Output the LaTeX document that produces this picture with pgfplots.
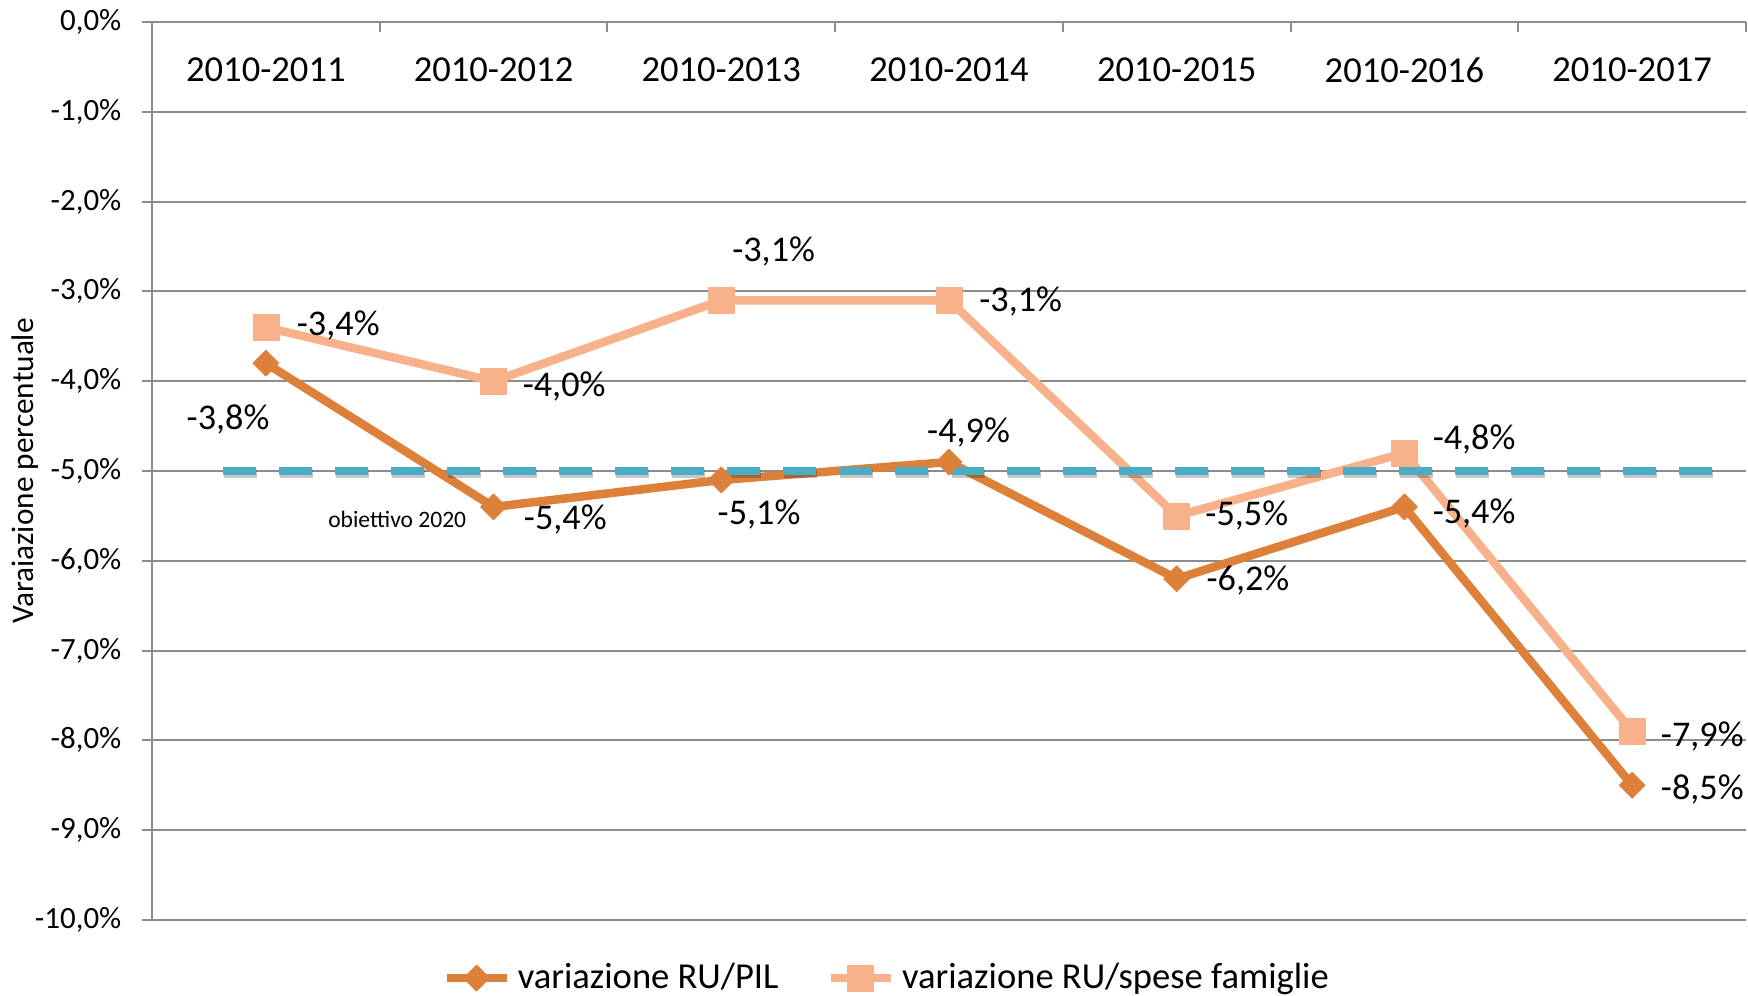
\documentclass[border=0pt]{standalone}
\usepackage{fontspec}
\setmainfont{Carlito}
\usepackage{pgfplots}
\pgfplotsset{compat=1.18}
\definecolor{pil}{HTML}{DD803A}
\definecolor{spese}{HTML}{F7B28C}
\definecolor{obj}{HTML}{4BACC6}
\definecolor{gridc}{HTML}{8C8C8C}
\newcommand{\dl}{\fontsize{10.3}{12}\selectfont}
\begin{document}
\begin{tikzpicture}
\path[use as bounding box] (-1.52,-0.76) rectangle (15.96,9.20);
\begin{axis}[
  at={(0,0)}, anchor=south west,
  scale only axis, width=15.94cm, height=8.98cm,
  xmin=-0.5, xmax=6.5, ymin=-10, ymax=0,
  axis x line*=top, axis y line*=left,
  axis line style={gridc, line width=0.02cm, -},
  xtick={-0.5,0.5,1.5,2.5,3.5,4.5,5.5,6.5},
  xticklabels={},
  extra x ticks={0,1,2,3,4,5,6},
  extra x tick labels={2010-2011,2010-2012,2010-2013,2010-2014,2010-2015,2010-2016,2010-2017},
  extra x tick style={major tick length=0pt},
  xticklabel style={anchor=center, yshift=-0.48cm, font=\fontsize{10.4}{12}\selectfont},
  tick align=inside, major tick length=0.1cm,
  x tick style={gridc, line width=0.02cm},
  y tick style={gridc, line width=0.02cm, xshift=-0.1cm},
  ytick={-10,-9,-8,-7,-6,-5,-4,-3,-2,-1,0},
  yticklabels={{-10,0\%},{-9,0\%},{-8,0\%},{-7,0\%},{-6,0\%},{-5,0\%},{-4,0\%},{-3,0\%},{-2,0\%},{-1,0\%},{0,0\%}},
  yticklabel style={anchor=east, inner sep=0pt, xshift=-0.3cm, font=\fontsize{8.8}{10}\selectfont},
  ymajorgrids, major grid style={gridc, line width=0.02cm},
  ylabel={Varaiazione percentuale},
  ylabel style={at={(axis description cs:-0.0797,0.5)}, anchor=center, font=\fontsize{8.9}{10}\selectfont},
  clip=false,
  legend style={draw=none, fill=none, at={(axis description cs:0.4624,-0.0646)}, anchor=center,
    legend columns=2, font=\fontsize{10.4}{12}\selectfont,
    /tikz/every even column/.append style={column sep=0.41cm}},
  legend image code/.code={\draw[mark repeat=2, mark phase=2] plot coordinates {(0cm,0cm)(0.3cm,0cm)(0.6cm,0cm)};},
]
\addplot[pil, line width=0.085cm, line join=round, mark=square*, mark size=0.092cm,
  mark options={rotate=45, solid, line width=0.2pt}]
  coordinates {(0,-3.8)(1,-5.4)(2,-5.1)(3,-4.9)(4,-6.2)(5,-5.4)(6,-8.5)};
\addlegendentry{variazione RU/PIL}
\addplot[spese, line width=0.085cm, line join=round, mark=square*, mark size=0.13cm,
  mark options={solid, line width=0.2pt}]
  coordinates {(0,-3.4)(1,-4.0)(2,-3.1)(3,-3.1)(4,-5.5)(5,-4.8)(6,-7.9)};
\addlegendentry{variazione RU/spese famiglie}
% target line with shadow
\addplot[forget plot, black, opacity=0.22, line width=0.08cm, dash pattern=on 0.33cm off 0.23cm, xshift=0.01cm, yshift=-0.035cm]
  coordinates {(-0.19,-5)(6.35,-5)};
\addplot[forget plot, obj, line width=0.08cm, dash pattern=on 0.33cm off 0.23cm]
  coordinates {(-0.19,-5)(6.35,-5)};
% data labels
\node[font=\dl] at (axis cs:-0.166,-4.43) {-3,8\%};
\node[font=\dl] at (axis cs:1.315,-5.54) {-5,4\%};
\node[font=\dl] at (axis cs:2.166,-5.48) {-5,1\%};
\node[font=\dl] at (axis cs:3.086,-4.57) {-4,9\%};
\node[font=\dl] at (axis cs:4.313,-6.22) {-6,2\%};
\node[font=\dl] at (axis cs:5.306,-5.47) {-5,4\%};
\node[font=\dl] at (axis cs:6.308,-8.55) {-8,5\%};
\node[font=\dl] at (axis cs:0.318,-3.38) {-3,4\%};
\node[font=\dl] at (axis cs:1.31,-4.06) {-4,0\%};
\node[font=\dl] at (axis cs:2.23,-2.56) {-3,1\%};
\node[font=\dl] at (axis cs:3.315,-3.11) {-3,1\%};
\node[font=\dl] at (axis cs:4.308,-5.50) {-5,5\%};
\node[font=\dl] at (axis cs:5.306,-4.65) {-4,8\%};
\node[font=\dl] at (axis cs:6.308,-7.96) {-7,9\%};
\node[font=\fontsize{6.7}{8}\selectfont] at (axis cs:0.577,-5.54) {obiettivo 2020};
\end{axis}
\end{tikzpicture}
\end{document}
